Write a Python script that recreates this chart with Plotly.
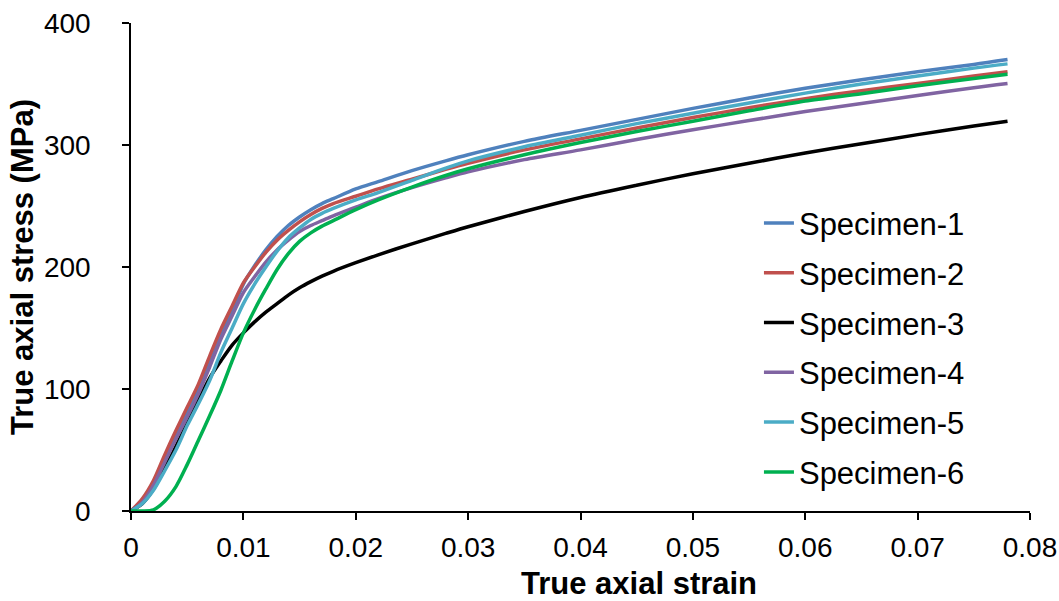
import plotly.graph_objects as go

# True axial strain sample points (shared by all specimens)
strain = [0, 0.001, 0.002, 0.003, 0.004, 0.005, 0.006, 0.007, 0.008, 0.009,
          0.010, 0.011, 0.012, 0.013, 0.014, 0.015, 0.016, 0.017, 0.018, 0.020,
          0.022, 0.025, 0.028, 0.030, 0.035, 0.040, 0.045, 0.050, 0.055, 0.060,
          0.065, 0.070, 0.075, 0.078]

# True axial stress (MPa) per specimen
specimen_1 = [0, 8, 22, 41, 61, 80, 100, 121, 143, 164,
              186, 201, 214, 225, 234, 241, 247, 252, 256, 264,
              270, 279, 287, 292, 303, 312, 321, 330, 338.5, 346.5,
              353.5, 360, 366, 370]
specimen_2 = [0, 10, 25, 46, 66, 85, 104, 127, 149, 168,
              187, 200, 212, 222, 230, 237, 243, 248, 252, 258,
              264, 272, 280, 285, 296, 305, 314, 322.5, 330.5, 338,
              344.5, 350.5, 356.5, 360]
specimen_3 = [0, 6, 18, 35, 53, 72, 91, 109, 123, 136,
              146, 155, 163, 170, 177, 183, 188, 192.5, 196.5, 203.5,
              210, 219, 227.5, 233, 245.5, 257, 267, 276.5, 285, 293.5,
              301, 308.5, 315.5, 319.5]
specimen_4 = [0, 7, 21, 40, 59, 77, 96, 118, 141, 160,
              179, 192, 204, 214, 222, 229, 234, 238, 242, 249,
              256, 265, 273, 278, 288, 296, 304.5, 312.5, 320, 327.5,
              334, 340.5, 347, 350.5]
specimen_5 = [0, 6, 17, 33, 50, 70, 88, 107, 130, 150,
              170, 186, 200, 213, 224, 232, 239, 244, 248, 255,
              261, 271, 281, 287, 298.5, 308, 317.5, 326, 334.5, 342.5,
              350, 356.5, 363, 366.5]
specimen_6 = [0, 0, 1, 8, 20, 38, 58, 78, 99, 123,
              146, 165, 182, 198, 211, 221, 228, 233.5, 238, 247,
              255, 265.5, 275, 280.5, 292, 302, 311, 319.5, 328, 336,
              342, 348.5, 354.5, 358]

names = ["Specimen-1", "Specimen-2", "Specimen-3",
         "Specimen-4", "Specimen-5", "Specimen-6"]
series = [specimen_1, specimen_2, specimen_3, specimen_4, specimen_5, specimen_6]
colors = ["#4F81BD", "#C0504D", "#000000", "#8064A2", "#4BACC6", "#00B050"]

FONT = "Arial, 'Liberation Sans', sans-serif"

fig = go.Figure()
for i, (name, ys, col) in enumerate(zip(names, series, colors)):
    fig.add_trace(go.Scatter(
        x=strain, y=ys, mode="lines", name=name,
        legendgroup=f"g{i}",
        line=dict(color=col, width=3.5, shape="spline", smoothing=0.8),
    ))

axis_common = dict(
    showgrid=False, zeroline=False, showline=True, automargin=False,
    linecolor="#000000", linewidth=1.5,
    ticks="outside", ticklen=7, tickwidth=1.5, tickcolor="#000000",
    tickfont=dict(family=FONT, size=28, color="#000000"),
)

fig.update_layout(
    width=1059, height=601,
    margin=dict(l=131, r=29, t=23, b=90, autoexpand=False),
    paper_bgcolor="#FFFFFF", plot_bgcolor="#FFFFFF",
    xaxis=dict(range=[0, 0.08], dtick=0.01, tick0=0, ticklabelstandoff=4,
               **axis_common),
    yaxis=dict(range=[0, 400], dtick=100, tick0=0, ticklabelstandoff=26,
               title=dict(text="<b>True axial stress (MPa)</b>", standoff=1,
                          font=dict(family=FONT, size=31, color="#000000")),
               **axis_common),
    legend=dict(x=0.6985, y=0.645, xanchor="left", yanchor="top",
                font=dict(family=FONT, size=31, color="#000000"),
                bgcolor="rgba(0,0,0,0)", tracegroupgap=6.5),
    showlegend=True,
    annotations=[dict(
        text="<b>True axial strain</b>", xref="paper", yref="paper",
        x=0.565, y=-0.148, xanchor="center", yanchor="middle",
        showarrow=False, font=dict(family=FONT, size=31, color="#000000"),
    )],
)

fig.write_html("out.html")
